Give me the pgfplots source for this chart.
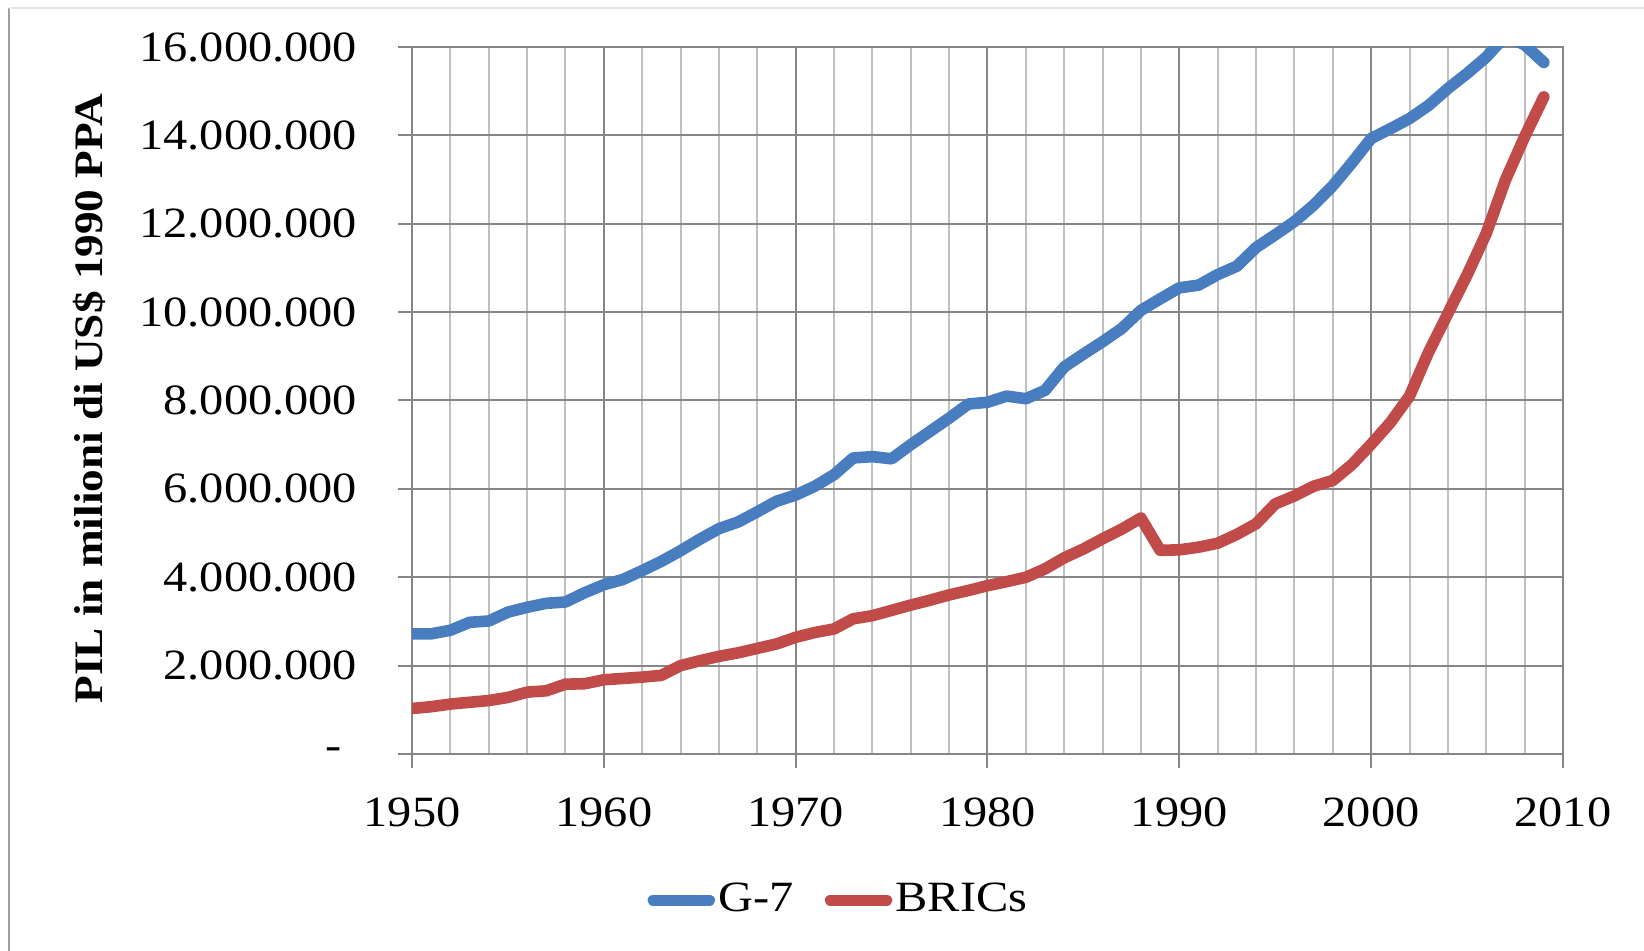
\documentclass[border=0pt]{standalone}
\usepackage{fontspec}
\setmainfont{Liberation Serif}[FakeStretch=1.12]
\usepackage{pgfplots}
\usepackage{pgfplotstable}
\pgfplotsset{compat=1.18}
\definecolor{gblue}{RGB}{72,125,192}
\definecolor{bred}{RGB}{192,75,72}
\definecolor{gridmaj}{RGB}{134,134,134}
\definecolor{gridmin}{RGB}{192,192,192}

\pgfplotstableread{
year g7 brics
1950 2720000 1030000
1951 2720000 1070000
1952 2800000 1130000
1953 2980000 1170000
1954 3010000 1210000
1955 3210000 1280000
1956 3320000 1400000
1957 3410000 1430000
1958 3440000 1580000
1959 3650000 1590000
1960 3830000 1680000
1961 3950000 1710000
1962 4150000 1740000
1963 4360000 1780000
1964 4600000 2000000
1965 4860000 2110000
1966 5100000 2210000
1967 5250000 2290000
1968 5480000 2390000
1969 5720000 2490000
1970 5860000 2640000
1971 6060000 2750000
1972 6320000 2830000
1973 6700000 3060000
1974 6730000 3130000
1975 6680000 3250000
1976 7000000 3370000
1977 7300000 3480000
1978 7600000 3600000
1979 7920000 3700000
1980 7960000 3810000
1981 8100000 3900000
1982 8040000 4000000
1983 8230000 4190000
1984 8760000 4440000
1985 9050000 4640000
1986 9330000 4870000
1987 9630000 5090000
1988 10040000 5340000
1989 10300000 4610000
1990 10550000 4620000
1991 10610000 4680000
1992 10850000 4770000
1993 11040000 4970000
1994 11460000 5210000
1995 11750000 5660000
1996 12050000 5840000
1997 12420000 6060000
1998 12860000 6190000
1999 13380000 6550000
2000 13930000 7010000
2001 14150000 7500000
2002 14380000 8100000
2003 14680000 9100000
2004 15060000 9970000
2005 15400000 10840000
2006 15770000 11780000
2007 16250000 12990000
2008 16050000 13970000
2009 15650000 14870000
}\datatable

\begin{document}
\begin{tikzpicture}
\useasboundingbox (0,0) rectangle (411bp,237.75bp);
\draw[draw=gray!75, line width=0.6bp] (2.25bp,0) -- (2.25bp,235.75bp);
\draw[draw=gray!20, line width=0.4bp] (2.25bp,235.75bp) -- (411bp,235.75bp);
\begin{axis}[
  at={(103bp,49.25bp)}, anchor=south west,
  scale only axis, width=287.75bp, height=176.75bp,
  xmin=1950, xmax=2010, ymin=0, ymax=16000000,
  xtick={1950,1960,1970,1980,1990,2000,2010},
  xticklabels={1950,1960,1970,1980,1990,2000,2010},
  minor xtick={1952,1954,1956,1958,1962,1964,1966,1968,1972,1974,1976,1978,1982,1984,1986,1988,1992,1994,1996,1998,2002,2004,2006,2008},
  ytick={0,2000000,4000000,6000000,8000000,10000000,12000000,14000000,16000000},
  yticklabels={{-\rule{3.9bp}{0pt}},2.000.000,4.000.000,6.000.000,8.000.000,10.000.000,12.000.000,14.000.000,16.000.000},
  scaled y ticks=false,
  grid=both,
  major grid style={draw=gridmaj, line width=0.5bp},
  minor grid style={draw=gridmin, line width=0.5bp},
  axis line style={draw=gridmaj, line width=0.7bp},
  tick align=outside, tick pos=left,
  major tick length=3.6bp, minor tick length=0pt,
  tick style={draw=gridmaj, line width=0.5bp},
  every tick label/.append style={font=\fontsize{10.8bp}{12bp}\selectfont},
  yticklabel style={xshift=-6.6bp},
  xticklabel style={yshift=-3.9bp},
  ylabel={\bfseries PIL in milioni di US\$ 1990 PPA},
  ylabel style={at={(axis description cs:-0.2800,0.5027)}, anchor=center, font=\fontsize{10.1bp}{12bp}\selectfont},
  legend style={at={(0.371,-0.2070)}, anchor=center, draw=none, fill=none,
    legend columns=2, font=\fontsize{10.8bp}{12bp}\selectfont,
    /tikz/every even column/.append style={column sep=7bp},
    nodes={inner sep=0.8bp}},
  legend image code/.code={\draw[#1, line cap=round] (0bp,0bp) -- (14bp,0bp);},
]
\addplot[draw=gblue, line width=2.9bp, line join=round, line cap=round] table[x=year, y=g7] {\datatable};
\addlegendentry{G-7}
\addplot[draw=bred, line width=2.9bp, line join=round, line cap=round] table[x=year, y=brics] {\datatable};
\addlegendentry{BRICs}
\end{axis}
\end{tikzpicture}
\end{document}
